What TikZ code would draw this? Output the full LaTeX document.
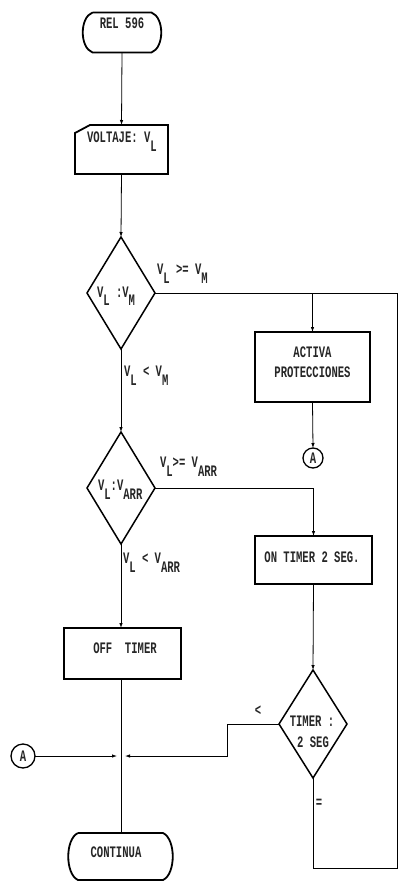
\documentclass[tikz,border=0pt]{standalone}
\usepackage{fontspec}
\setmonofont[FakeStretch=0.66]{Liberation Mono}
\usetikzlibrary{arrows.meta,shapes.geometric,calc}
\newcommand\dsub[1]{\raisebox{-9pt}{#1}}
\begin{document}
\begin{tikzpicture}[x=1pt,y=-1pt,
  font=\ttfamily\bfseries\fontsize{16}{18}\selectfont,
  every node/.style={inner sep=0pt, outer sep=0pt, text=black!85},
  outl/.style={draw=black, line width=1.8pt},
  boxn/.style={rectangle, draw=black, line width=1.8pt},
  dia/.style={diamond, draw=black, line width=1.5pt, inner sep=0pt},
  conn/.style={draw=black, line width=0.8pt},
  arr/.style={conn, -{Latex[length=5pt,width=3.5pt]}},
  lbl/.style={anchor=base west},
  circ/.style={circle, draw=black, line width=1.3pt}]
\useasboundingbox (0,0) rectangle (399,882);

% start terminal
\node[rectangle, minimum width=59, minimum height=40] (start) at (122,32.5) {};
\draw[outl] (start.north west) -- (start.north east)
  .. controls +(13,5) and +(13,-5) .. (start.south east)
  -- (start.south west)
  .. controls +(-13,-5) and +(-13,5) .. (start.north west);
\node (startt) at (122,23) {REL 596};

% manual input
\node[rectangle, minimum width=93, minimum height=49] (inp) at (121.5,149.5) {};
\draw[outl] (inp.north east) -- ($(inp.north west)+(15,0)$) -- ($(inp.north west)+(0,8)$)
  -- (inp.south west) -- (inp.south east) -- cycle;
\node[lbl] (inpt) at (87,143) {VOLTAJE: V\dsub{L}};

% decision 1
\node[dia, minimum width=68, minimum height=112] (d1) at (121,293) {};
\node[lbl] (d1t) at (97,297) {V\dsub{L} :V\dsub{M}};
\node[lbl] (l1) at (157,275) {V\dsub{L} >= V\dsub{M}};
\node[lbl] (l2) at (124,376) {V\dsub{L} < V\dsub{M}};

% activa
\node[boxn, minimum width=115, minimum height=70] (act) at (312.5,367) {};
\node (actt1) at (312.5,352) {ACTIVA};
\node (actt2) at (312.5,372.5) {PROTECCIONES};
\node[circ, minimum size=20] (cA1) at (313,458) {A};

% decision 2
\node[dia, minimum width=68, minimum height=112] (d2) at (121,488) {};
\node[lbl] (d2t) at (98,490) {V\dsub{L}:V\dsub{ARR}};
\node[lbl] (l3) at (160,467) {V\dsub{L}>= V\dsub{ARR}};
\node[lbl] (l4) at (123,563) {V\dsub{L} < V\dsub{ARR}};

% on timer
\node[boxn, minimum width=117, minimum height=48] (on) at (313.5,560) {};
\node (ont) at (312,557.5) {ON TIMER 2 SEG.};

% off timer
\node[boxn, minimum width=117, minimum height=51] (off) at (122.5,653.5) {};
\node (offt) at (125,648) {OFF~~TIMER};

% decision 3
\node[dia, minimum width=68, minimum height=108] (d3) at (313,724) {};
\node (d3t1) at (312,721) {TIMER :};
\node (d3t2) at (313,742) {2 SEG};
\node (lt) at (258,711) {<};
\node (le) at (319,803) {=};

% connector A left
\node[circ, minimum size=24] (cA2) at (23,756) {A};

% end terminal
\node[rectangle, minimum width=85, minimum height=47] (end) at (120.5,856.5) {};
\draw[outl] (end.north west) -- (end.north east)
  .. controls +(13,6) and +(13,-6) .. (end.south east)
  -- (end.south west)
  .. controls +(-13,-6) and +(-13,6) .. (end.north west);
\node (endt) at (116,852) {CONTINUA};

% coordinates
\coordinate (br) at (397,868);
\coordinate (jR) at (125,756);
\coordinate (jL) at (117,756);
\coordinate (k) at (227,756);

% connectors
\draw[arr] (start.south) -- (inp.north);
\draw[arr] (inp.south) -- (d1.north);
\draw[conn] (d3.south) |- (br) |- (d1.east);
\draw[arr] (d1.east -| act.north) -- (act.north);
\draw[arr] (act.south) -- (cA1.north);
\draw[arr] (d1.south) -- (d2.north);
\draw[arr] (d2.east) -| (on.north);
\draw[arr] (d2.south) -- (d2.south |- off.north);
\draw[arr] (on.south) -- (d3.north);
\draw[conn] (d2.south |- off.south) -- (d2.south |- end.north);
\draw[arr] (d3.west) -| (k) -- (jR);
\draw[arr] (cA2.east) -- (jL);
\end{tikzpicture}
\end{document}
